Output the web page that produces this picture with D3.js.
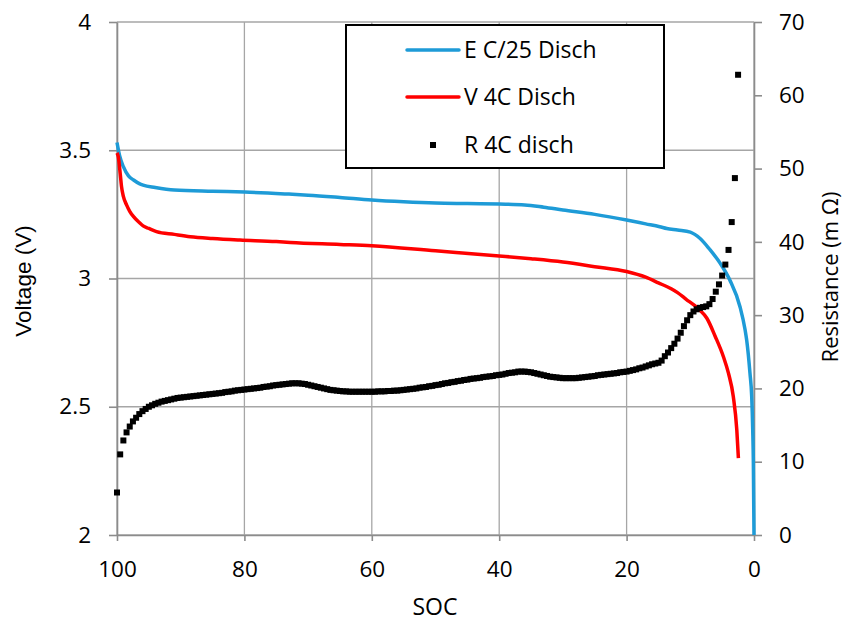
<!DOCTYPE html>
<html>
<head>
	<meta charset="utf-8">
	<title>SOC voltage resistance</title>
	<script src="https://cdn.jsdelivr.net/npm/d3@7"></script>
	<style>
		body { margin: 0; background: #fff; }
		text { font-family: "Open Sans", Lato, sans-serif; fill: #000; }
		.grid line { stroke: #a6a6a6; stroke-width: 1.3; }
		.axis path, .axis line { stroke: #8c8c8c; stroke-width: 1.6; }
		.axis text { font-size: 22.5px; font-family: "Open Sans", sans-serif; }
		.title { font-size: 23px; }
		.title.right { font-size: 22px; }
		.title.arial { font-family: "Liberation Sans", Arial, sans-serif; font-size: 22.5px; }
		.legend text { font-size: 23px; }
	</style>
</head>
<body>
<svg id="chart" width="846" height="621"></svg>
<script>

//
// Data
//

// E C/25 Disch (voltage vs SOC)
var eSoc = [100, 99.6, 99, 98.2, 97.4, 96.5, 95.9, 94, 91, 85, 80, 73, 70, 65, 60, 55, 50, 45, 40, 36, 33, 30, 25, 20, 17, 14.8, 13.7, 12, 10, 9.3, 8.5, 7, 5.3, 3.8, 2.2, 1.4, 1.15, 0.63, 0.36, 0.2, 0.1, 0];
var eVolt = [3.53, 3.48, 3.436, 3.40, 3.384, 3.37, 3.364, 3.355, 3.345, 3.34, 3.337, 3.329, 3.325, 3.316, 3.306, 3.299, 3.294, 3.292, 3.29, 3.287, 3.278, 3.267, 3.25, 3.228, 3.213, 3.202, 3.195, 3.189, 3.181, 3.172, 3.157, 3.115, 3.059, 2.994, 2.89, 2.80, 2.76, 2.63, 2.54, 2.41, 2.28, 2.0];

// V 4C Disch (voltage vs SOC)
var vSoc = [100, 99.8, 99.5, 99.3, 99, 98.5, 98, 97.4, 96.5, 95.9, 95, 93.8, 91, 88.5, 85, 80.7, 75, 72.8, 65, 60, 50, 40, 35, 30, 25, 20, 17, 15, 13, 12, 10.6, 9.5, 8.5, 7.4, 6.1, 4.8, 4.0, 3.25, 2.7, 2.45];
var vVolt = [3.49, 3.475, 3.41, 3.36, 3.32, 3.287, 3.262, 3.241, 3.218, 3.205, 3.195, 3.183, 3.172, 3.163, 3.156, 3.15, 3.144, 3.14, 3.133, 3.128, 3.108, 3.088, 3.077, 3.064, 3.046, 3.027, 3.005, 2.983, 2.96, 2.945, 2.918, 2.898, 2.877, 2.845, 2.775, 2.695, 2.63, 2.54, 2.41, 2.30];

// R 4C disch (m ohm), one reading every 0.5 SOC from 100 down to 2.5
var rStart = 100, rStep = 0.5;
var rValues = [
	5.8, 11.0, 12.9, 14.0, 14.8, 15.5, 16.0, 16.5, 16.9, 17.2,
	17.5, 17.7, 17.9, 18.05, 18.2, 18.3, 18.4, 18.5, 18.6, 18.7,
	18.75, 18.8, 18.85, 18.9, 18.95, 19.0, 19.05, 19.1, 19.15, 19.2,
	19.25, 19.3, 19.35, 19.4, 19.5, 19.55, 19.6, 19.7, 19.75, 19.8,
	19.85, 19.9, 19.95, 20.0, 20.05, 20.1, 20.2, 20.25, 20.3, 20.4,
	20.45, 20.5, 20.55, 20.6, 20.65, 20.7, 20.7, 20.7, 20.65, 20.6,
	20.5, 20.4, 20.3, 20.2, 20.1, 20.0, 19.9, 19.8, 19.75, 19.7,
	19.65, 19.6, 19.6, 19.55, 19.55, 19.55, 19.55, 19.55, 19.55, 19.55,
	19.55, 19.55, 19.6, 19.6, 19.6, 19.65, 19.65, 19.7, 19.7, 19.75,
	19.8, 19.85, 19.9, 19.95, 20.0, 20.1, 20.15, 20.2, 20.3, 20.35,
	20.45, 20.5, 20.6, 20.7, 20.75, 20.85, 20.9, 21.0, 21.05, 21.15,
	21.2, 21.3, 21.35, 21.4, 21.45, 21.55, 21.6, 21.65, 21.7, 21.8,
	21.85, 21.9, 22.0, 22.1, 22.15, 22.2, 22.3, 22.3, 22.3, 22.25,
	22.2, 22.1, 22.0, 21.9, 21.8, 21.7, 21.6, 21.55, 21.5, 21.45,
	21.4, 21.4, 21.4, 21.4, 21.4, 21.45, 21.5, 21.55, 21.6, 21.65,
	21.7, 21.8, 21.85, 21.9, 21.95, 22.0, 22.05, 22.1, 22.2, 22.25,
	22.3, 22.4, 22.5, 22.6, 22.75, 22.85, 23.0, 23.15, 23.3, 23.4,
	23.5, 23.8, 24.4, 24.9, 25.5, 26.1, 26.8, 27.6, 28.5, 29.3,
	30.0, 30.5, 30.8, 31.0, 31.1, 31.2, 31.5, 32.2, 33.2, 34.2,
	35.4, 36.9, 38.9, 42.7, 48.7, 62.8
];

var xTicks = [100, 80, 60, 40, 20, 0];
var yLeftTicks = [2, 2.5, 3, 3.5, 4];
var yRightTicks = [0, 10, 20, 30, 40, 50, 60, 70];

var legendNames = ["E C/25 Disch", "V 4C Disch", "R 4C disch"];
var colors = { e: "#1e9bd7", v: "#ff0000", r: "#000000" };

//
// Scales
//

var plot = { left: 117, right: 754, top: 22, bottom: 535 };

var x = d3.scaleLinear().domain([100, 0]).range([plot.left, plot.right]);
var yL = d3.scaleLinear().domain([2, 4]).range([plot.bottom, plot.top]);
var yR = d3.scaleLinear().domain([0, 70]).range([plot.bottom, plot.top]);

var svg = d3.select("#chart");

// Grid
var gridG = svg.append("g").attr("class", "grid");
yLeftTicks.forEach(function(d) {
	gridG.append("line")
		.attr("x1", plot.left).attr("x2", plot.right)
		.attr("y1", yL(d)).attr("y2", yL(d));
});
xTicks.forEach(function(d) {
	gridG.append("line")
		.attr("x1", x(d)).attr("x2", x(d))
		.attr("y1", plot.top).attr("y2", plot.bottom);
});

// Axes
svg.append("g")
	.attr("class", "axis")
	.attr("transform", "translate(" + plot.left + ",0)")
	.call(d3.axisLeft(yL).tickValues(yLeftTicks).tickSize(8).tickSizeOuter(0).tickPadding(18)
		.tickFormat(function(d) { return d; }));

svg.append("g")
	.attr("class", "axis")
	.attr("transform", "translate(" + plot.right + ",0)")
	.call(d3.axisRight(yR).tickValues(yRightTicks).tickSize(8).tickSizeOuter(0).tickPadding(17));

svg.append("g")
	.attr("class", "axis")
	.attr("transform", "translate(0," + plot.bottom + ")")
	.call(d3.axisBottom(x).tickValues(xTicks).tickSize(6).tickSizeOuter(0).tickPadding(20));

svg.selectAll(".axis .domain").attr("stroke", "#8c8c8c");

// Axis titles
svg.append("text")
	.attr("class", "title arial")
	.attr("text-anchor", "middle")
	.attr("transform", "translate(31,281) rotate(-90)")
	.text("Voltage (V)");

svg.append("text")
	.attr("class", "title right")
	.attr("text-anchor", "middle")
	.attr("transform", "translate(838,277) rotate(-90)")
	.text("Resistance (m \u03A9)");

svg.append("text")
	.attr("class", "title")
	.attr("text-anchor", "middle")
	.attr("x", 435).attr("y", 615)
	.text("SOC");

//
// Series
//

var line = d3.line()
	.x(function(d) { return x(d[0]); })
	.y(function(d) { return yL(d[1]); })
	.curve(d3.curveMonotoneX);

var eData = eSoc.map(function(s, i) { return [s, eVolt[i]]; });
var vData = vSoc.map(function(s, i) { return [s, vVolt[i]]; });
var rData = rValues.map(function(r, i) { return [rStart - i * rStep, r]; });

svg.append("path")
	.datum(eData)
	.attr("d", line)
	.attr("fill", "none")
	.attr("stroke", colors.e)
	.attr("stroke-width", 3.5);

svg.append("path")
	.datum(vData)
	.attr("d", line)
	.attr("fill", "none")
	.attr("stroke", colors.v)
	.attr("stroke-width", 3.5);

var sq = 6;
svg.append("g").selectAll("rect")
	.data(rData)
	.enter().append("rect")
		.attr("x", function(d) { return x(d[0]) - sq / 2; })
		.attr("y", function(d) { return yR(d[1]) - sq / 2; })
		.attr("width", sq)
		.attr("height", sq)
		.attr("fill", colors.r);

//
// Legend
//

var legend = svg.append("g").attr("class", "legend");
legend.append("rect")
	.attr("x", 346).attr("y", 25)
	.attr("width", 318).attr("height", 143)
	.attr("fill", "#fff")
	.attr("stroke", "#000")
	.attr("stroke-width", 2);

var rowY = [50, 97, 145];
legend.append("line")
	.attr("x1", 407).attr("x2", 459).attr("y1", rowY[0]).attr("y2", rowY[0])
	.attr("stroke", colors.e).attr("stroke-width", 3.5).attr("stroke-linecap", "round");
legend.append("line")
	.attr("x1", 407).attr("x2", 459).attr("y1", rowY[1]).attr("y2", rowY[1])
	.attr("stroke", colors.v).attr("stroke-width", 3.5).attr("stroke-linecap", "round");
legend.append("rect")
	.attr("x", 433 - sq / 2).attr("y", rowY[2] - sq / 2)
	.attr("width", sq).attr("height", sq)
	.attr("fill", colors.r);

legendNames.forEach(function(name, i) {
	legend.append("text")
		.attr("x", 464)
		.attr("y", rowY[i])
		.attr("dy", "0.35em")
		.text(name);
});

</script>
</body>
</html>
